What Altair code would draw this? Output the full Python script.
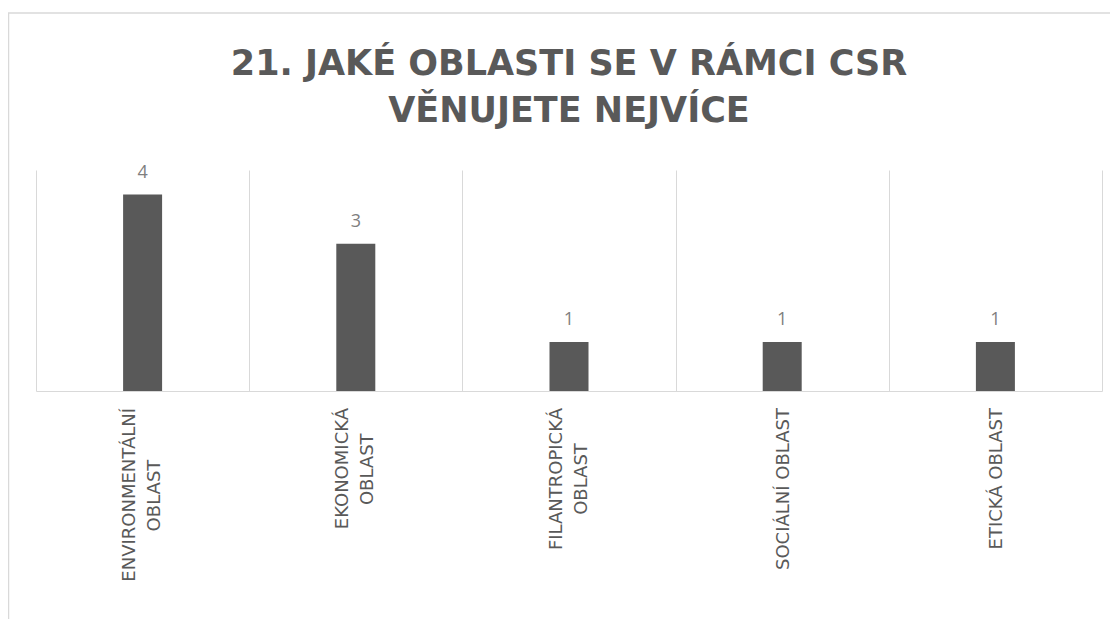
import altair as alt
import pandas as pd

# ---- data ----
label_lines = [
    ["ENVIRONMENTÁLNÍ", "OBLAST"],
    ["EKONOMICKÁ", "OBLAST"],
    ["FILANTROPICKÁ", "OBLAST"],
    ["SOCIÁLNÍ OBLAST"],
    ["ETICKÁ OBLAST"],
]
values = [4, 3, 1, 1, 1]
title_lines = ["21. JAKÉ OBLASTI SE V RÁMCI CSR", "VĚNUJETE NEJVÍCE"]

# approximate DejaVu Sans advance widths (em), used to centre the 2nd label line
CHAR_W = {"A": .684, "B": .686, "C": .698, "E": .632, "F": .575, "I": .295,
          "K": .656, "L": .557, "M": .863, "N": .748, "O": .787, "P": .603,
          "R": .695, "S": .635, "T": .611, "V": .684, "Á": .684, "Í": .295,
          " ": .318}
LABEL_FONT = "DejaVu Sans"
LABEL_SIZE = 18
LINE_H = 25
PLOT_W, PLOT_H = 1066, 221
LABEL_TOP = PLOT_H + 17


def text_len(s):
    return sum(CHAR_W.get(ch, .65) for ch in s) * LABEL_SIZE


categories = [" ".join(l) for l in label_lines]
df = pd.DataFrame({"cat": categories, "val": values})

lab = pd.DataFrame({
    "cat": categories,
    "n": [len(l) for l in label_lines],
    "first": [l[0] for l in label_lines],
    "second": [l[1] if len(l) > 1 else "" for l in label_lines],
})
lab["ypix"] = [LABEL_TOP + text_len(l[0]) / 2 for l in label_lines]

GRAY = "#d9d9d9"
DARK = "#595959"

x = alt.X(
    "cat:N",
    sort=categories,
    scale=alt.Scale(paddingInner=0, paddingOuter=0),
    axis=alt.Axis(
        title=None,
        labels=False,
        ticks=False,
        grid=True,
        gridColor=GRAY,
        gridWidth=1,
        tickBand="extent",
        domainColor=GRAY,
        domainWidth=1,
    ),
)
y = alt.Y("val:Q", scale=alt.Scale(domain=[0, 4.5], nice=False), axis=None)

bars = alt.Chart(df).mark_bar(color=DARK, size=39).encode(x=x, y=y)
texts = alt.Chart(df).mark_text(
    baseline="bottom", dy=-13, font="Open Sans", fontSize=18, color="#7f7f7f"
).encode(x=x, y=y, text="val:Q")

lab_style = dict(font=LABEL_FONT, fontSize=LABEL_SIZE, color=DARK, angle=270,
                 baseline="middle")
single = alt.Chart(lab).transform_filter("datum.n == 1").mark_text(
    align="right", dy=2, **lab_style
).encode(x=x, y=alt.value(LABEL_TOP), text="first:N")
first = alt.Chart(lab).transform_filter("datum.n == 2").mark_text(
    align="right", dy=-LINE_H / 2, **lab_style
).encode(x=x, y=alt.value(LABEL_TOP), text="first:N")
second = alt.Chart(lab).transform_filter("datum.n == 2").mark_text(
    align="center", dy=LINE_H / 2, **lab_style
).encode(x=x, y=alt.Y("ypix:Q", scale=None, axis=None), text="second:N")

frame = alt.Chart(pd.DataFrame({"f": [0]})).mark_rect(
    fill="transparent", stroke=GRAY, strokeWidth=1.5
).encode(
    x=alt.value(-27.5), x2=alt.value(1300), y=alt.value(-157), y2=alt.value(900)
)

chart = (
    alt.layer(frame, bars, texts, single, first, second)
    .properties(
        width=PLOT_W,
        height=PLOT_H,
        autosize=alt.AutoSizeParams(type="none"),
        padding={"left": 28, "top": 162, "right": 8, "bottom": 228},
        title=alt.TitleParams(
            text=title_lines,
            font="DejaVu Sans",
            fontSize=35,
            fontWeight="bold",
            color=DARK,
            anchor="middle",
            frame="group",
            baseline="top",
            offset=-116.5,
            lineHeight=46.5,
        ),
    )
    .configure_view(stroke=None)
)

chart.save("out.html", embed_options={"renderer": "svg", "actions": False})
